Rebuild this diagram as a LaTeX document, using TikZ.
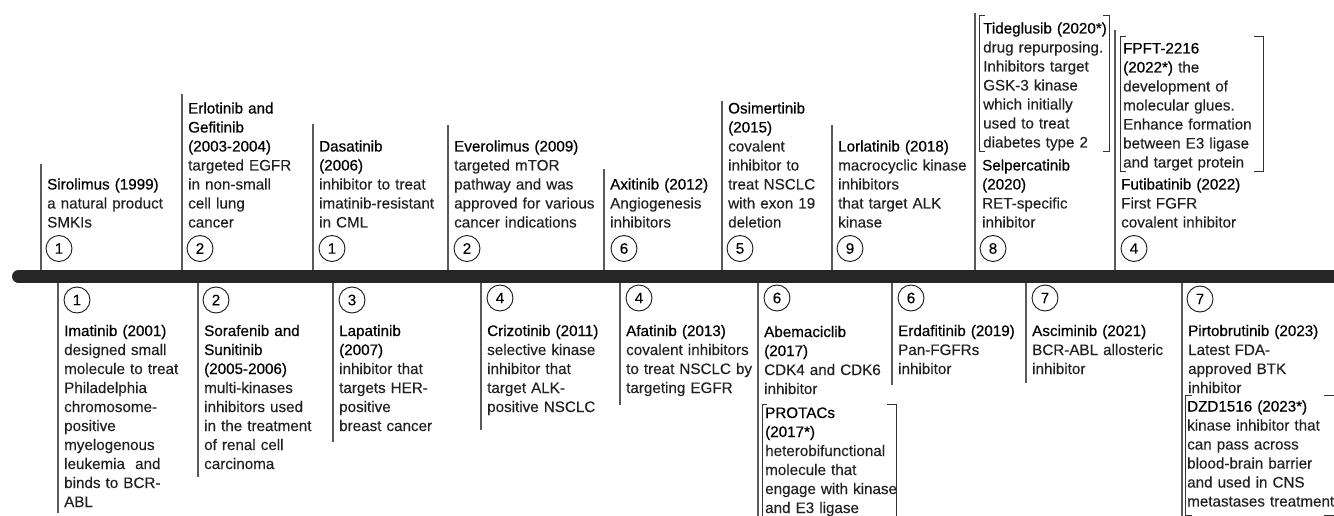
\documentclass[tikz,border=0pt]{standalone}
\usepackage{fontspec}
\setmainfont{Liberation Sans}
\newfontface\hdface{Liberation Sans}[FakeBold=0.5]
\newfontface\dface{Liberation Sans}[FakeBold=0.12]
\usetikzlibrary{positioning}
\definecolor{barcol}{HTML}{262626}
\definecolor{tickcol}{HTML}{5A5A5A}
\definecolor{brkcol}{HTML}{333333}
\definecolor{desccol}{HTML}{202020}
\newcommand\dfont{\dface\fontsize{15.2pt}{19pt}\selectfont}
\newcommand\hd[1]{{\color{black}\hdface #1}}
\begin{document}
\begin{tikzpicture}[x=1pt,y=-1pt,
  desc/.style={anchor=base west, inner sep=0pt, text width=220pt, align=left, font=\dfont, text=desccol},
  numc/.style={circle, draw=black!90, line width=0.9pt, minimum size=26pt, inner sep=0pt, font=\dfont, text=black},
  tick/.style={draw=tickcol, line width=1.3pt},
  brk/.style={draw=brkcol, line width=1pt}]
\useasboundingbox (0,0) rectangle (1334,516);
\fill[white] (0,0) rectangle (1334,516);
% main bar
\coordinate (barL) at (18.5,276.5);
\coordinate (barR) at (1334,276.5);
\draw[barcol, line width=13pt, line cap=round] (barL) -- (barR);

% ---------- top items ----------
% Sirolimus
\coordinate (ta1) at (41,270); \coordinate (tb1) at (41,164);
\draw[tick] (ta1) -- (tb1);
\node[desc] (tt1) at (47,189.5) {\hd{Sirolimus (1999)}\\a natural product\\SMKIs};
\node[numc] (tc1) at (59,248.5) {1};
% Erlotinib
\coordinate (ta2) at (182,270); \coordinate (tb2) at (182,94);
\draw[tick] (ta2) -- (tb2);
\node[desc] (tt2) at (188,113.5) {\hd{Erlotinib and}\\\hd{Gefitinib}\\\hd{(2003-2004)}\\targeted EGFR\\in non-small\\cell lung\\cancer};
\node[numc] (tc2) at (200,248.5) {2};
% Dasatinib
\coordinate (ta3) at (313,270); \coordinate (tb3) at (313,124);
\draw[tick] (ta3) -- (tb3);
\node[desc] (tt3) at (319,151.5) {\hd{Dasatinib}\\\hd{(2006)}\\inhibitor to treat\\imatinib-resistant\\in CML};
\node[numc] (tc3) at (332,248.5) {1};
% Everolimus
\coordinate (ta4) at (448,270); \coordinate (tb4) at (448,125);
\draw[tick] (ta4) -- (tb4);
\node[desc] (tt4) at (454,151.5) {\hd{Everolimus (2009)}\\targeted mTOR\\pathway and was\\approved for various\\cancer indications};
\node[numc] (tc4) at (467,248.5) {2};
% Axitinib
\coordinate (ta5) at (604,270); \coordinate (tb5) at (604,169);
\draw[tick] (ta5) -- (tb5);
\node[desc] (tt5) at (610,189.5) {\hd{Axitinib (2012)}\\Angiogenesis\\inhibitors};
\node[numc] (tc5) at (624,248.5) {6};
% Osimertinib
\coordinate (ta6) at (722,270); \coordinate (tb6) at (722,101);
\draw[tick] (ta6) -- (tb6);
\node[desc] (tt6) at (728,113.5) {\hd{Osimertinib}\\\hd{(2015)}\\covalent\\inhibitor to\\treat NSCLC\\with exon 19\\deletion};
\node[numc] (tc6) at (740,248.5) {5};
% Lorlatinib
\coordinate (ta7) at (832,270); \coordinate (tb7) at (832,125);
\draw[tick] (ta7) -- (tb7);
\node[desc] (tt7) at (838,151.5) {\hd{Lorlatinib (2018)}\\macrocyclic kinase\\inhibitors\\that target ALK\\kinase};
\node[numc] (tc7) at (850,248.5) {9};
% Selpercatinib + Tideglusib
\coordinate (ta8) at (975,270); \coordinate (tb8) at (975,13);
\draw[tick] (ta8) -- (tb8);
\node[desc] (tt8) at (982,170.5) {\hd{Selpercatinib}\\\hd{(2020)}\\RET-specific\\inhibitor};
\node[numc] (tc8) at (993,248.5) {8};
\node[desc] (tg) at (983,33.5) {\hd{Tideglusib (2020*)}\\drug repurposing.\\Inhibitors target\\GSK-3 kinase\\which initially\\used to treat\\diabetes type 2};
\draw[brk] (985,16) -- (979,16) -- (979,152) -- (985,152);
\draw[brk] (1103,16) -- (1109,16) -- (1109,152) -- (1103,152);
% Futibatinib + FPFT
\coordinate (ta9) at (1115,270); \coordinate (tb9) at (1115,30);
\draw[tick] (ta9) -- (tb9);
\node[desc] (tt9) at (1121,189.5) {\hd{Futibatinib (2022)}\\First FGFR\\covalent inhibitor};
\node[numc] (tc9) at (1134,248.5) {4};
\node[desc] (fp) at (1123,53.5) {\hd{FPFT-2216}\\\hd{(2022*)} the\\development of\\molecular glues.\\Enhance formation\\between E3 ligase\\and target protein};
\draw[brk] (1126,37) -- (1120,37) -- (1120,172) -- (1126,172);
\draw[brk] (1254,37) -- (1263,37) -- (1263,172) -- (1254,172);

% ---------- bottom items ----------
% Imatinib
\coordinate (ba1) at (58,283); \coordinate (bb1) at (58,513);
\draw[tick] (ba1) -- (bb1);
\node[numc] (bc1) at (77,300) {1};
\node[desc] (bt1) at (64,336) {\hd{Imatinib (2001)}\\designed small\\molecule to treat\\Philadelphia\\chromosome-\\positive\\myelogenous\\leukemia\ \ and\\binds to BCR-\\ABL};
% Sorafenib
\coordinate (ba2) at (198,283); \coordinate (bb2) at (198,477);
\draw[tick] (ba2) -- (bb2);
\node[numc] (bc2) at (216,300) {2};
\node[desc] (bt2) at (204,336) {\hd{Sorafenib and}\\\hd{Sunitinib}\\\hd{(2005-2006)}\\multi-kinases\\inhibitors used\\in the treatment\\of renal cell\\carcinoma};
% Lapatinib
\coordinate (ba3) at (333,283); \coordinate (bb3) at (333,442);
\draw[tick] (ba3) -- (bb3);
\node[numc] (bc3) at (352,300) {3};
\node[desc] (bt3) at (339,336) {\hd{Lapatinib}\\\hd{(2007)}\\inhibitor that\\targets HER-\\positive\\breast cancer};
% Crizotinib
\coordinate (ba4) at (481,283); \coordinate (bb4) at (481,430);
\draw[tick] (ba4) -- (bb4);
\node[numc] (bc4) at (500,298) {4};
\node[desc] (bt4) at (487,336) {\hd{Crizotinib (2011)}\\selective kinase\\inhibitor that\\target ALK-\\positive NSCLC};
% Afatinib
\coordinate (ba5) at (620,283); \coordinate (bb5) at (620,405);
\draw[tick] (ba5) -- (bb5);
\node[numc] (bc5) at (639,298) {4};
\node[desc] (bt5) at (626,336) {\hd{Afatinib (2013)}\\covalent inhibitors\\to treat NSCLC by\\targeting EGFR};
% Abemaciclib + PROTACs
\coordinate (ba6) at (758,283); \coordinate (bb6) at (758,520);
\draw[tick] (ba6) -- (bb6);
\node[numc] (bc6) at (777,298) {6};
\node[desc] (bt6) at (764,337) {\hd{Abemaciclib}\\\hd{(2017)}\\CDK4 and CDK6\\inhibitor};
\node[desc] (pr) at (765,418) {\hd{PROTACs}\\\hd{(2017*)}\\heterobifunctional\\molecule that\\engage with kinase\\and E3 ligase};
\draw[brk] (767,404) -- (762,404) -- (762,520);
\draw[brk] (887,404) -- (896,404) -- (896,520);
% Erdafitinib
\coordinate (ba7) at (892,283); \coordinate (bb7) at (892,385);
\draw[tick] (ba7) -- (bb7);
\node[numc] (bc7) at (911,298) {6};
\node[desc] (bt7) at (898,336) {\hd{Erdafitinib (2019)}\\Pan-FGFRs\\inhibitor};
% Asciminib
\coordinate (ba8) at (1026,283); \coordinate (bb8) at (1026,383);
\draw[tick] (ba8) -- (bb8);
\node[numc] (bc8) at (1045,298) {7};
\node[desc] (bt8) at (1032,336) {\hd{Asciminib (2021)}\\BCR-ABL allosteric\\inhibitor};
% Pirtobrutinib + DZD1516
\coordinate (ba9) at (1182,283); \coordinate (bb9) at (1182,520);
\draw[tick] (ba9) -- (bb9);
\node[numc] (bc9) at (1200,299) {7};
\node[desc] (bt9) at (1188,336) {\hd{Pirtobrutinib (2023)}\\Latest FDA-\\approved BTK\\inhibitor};
\node[desc] (dz) at (1187,411.5) {\hd{DZD1516 (2023*)}\\kinase inhibitor that\\can pass across\\blood-brain barrier\\and used in CNS\\metastases treatment};
\draw[brk] (1192,395) -- (1185,395) -- (1185,515) -- (1192,515);
\draw[brk] (1324,395) -- (1340,395) -- (1340,515) -- (1324,515);
\end{tikzpicture}
\end{document}
